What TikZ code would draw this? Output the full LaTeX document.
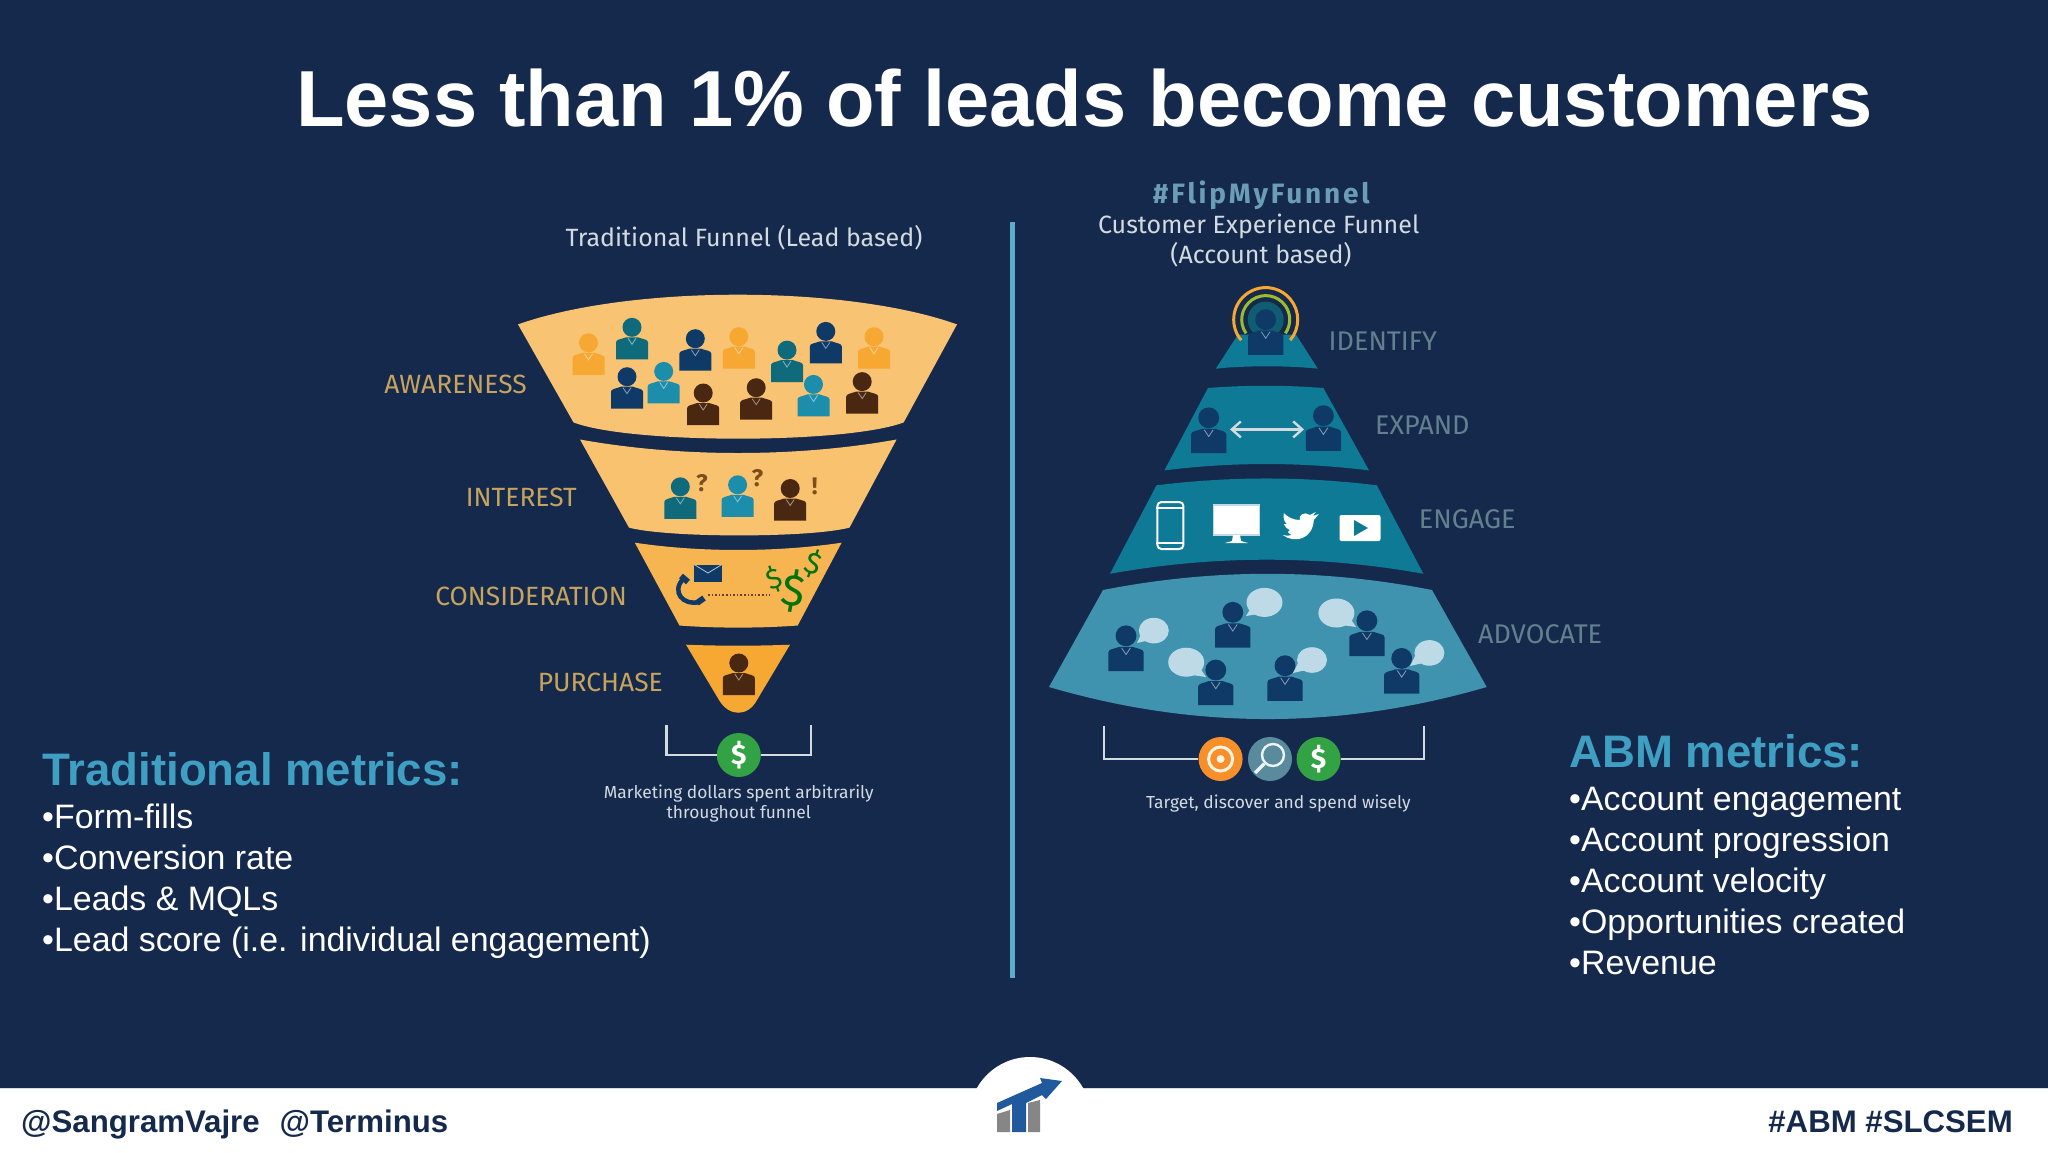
\documentclass[tikz,border=0pt]{standalone}
\usepackage{fontspec}
\setmainfont{Liberation Sans}
\newfontfamily\funnelfont{Fira Sans}
\usetikzlibrary{positioning}
\usetikzlibrary{arrows.meta}
\definecolor{slidebg}{HTML}{15294C}
\definecolor{metricblue}{HTML}{3F9FC3}
\definecolor{dimgold}{HTML}{C6A45E}
\definecolor{dimteal}{HTML}{64808F}
\definecolor{soft}{HTML}{D3DAE0}
\definecolor{pnavy}{HTML}{0F3A68}
\definecolor{pteal}{HTML}{0F6A7C}
\definecolor{pblue}{HTML}{1C8DAA}
\definecolor{pbrown}{HTML}{4A2710}
\definecolor{porange}{HTML}{F6A832}
\definecolor{tierdark}{HTML}{0E7A95}
\definecolor{tierlight}{HTML}{3F93AF}
\definecolor{cashgreen}{HTML}{33A245}
\definecolor{bubble}{HTML}{BEDAE6}
\definecolor{logoblue}{HTML}{215A9C}
\tikzset{
  pics/person/.style={code={
    \fill[#1] (0,0) circle (9.5pt);
    \fill[#1] (-16,32) -- (-16,15) .. controls (-16,12) and (-11,12) .. (-6,10) -- (6,10) .. controls (11,12) and (16,12) .. (16,15) -- (16,32) -- cycle;
    \draw[white, opacity=0.5, line width=0.8pt] (-4,11) -- (0,17) -- (4,11);
  }},
  headline/.style={text=white, font=\bfseries\fontsize{79.5}{90}\selectfont},
  metrichead/.style={text=metricblue, anchor=west, inner sep=0pt, font=\bfseries\fontsize{45.6}{50}\selectfont},
  metric/.style={text=white, anchor=west, inner sep=0pt, text height=26pt, text depth=8pt, font=\fontsize{33.9}{40}\selectfont},
  funneltext/.style={text=soft, font=\funnelfont\fontsize{25}{28}\selectfont},
  funnelnote/.style={text=soft, align=center, font=\funnelfont\fontsize{17.4}{20}\selectfont},
  stagegold/.style={text=dimgold, anchor=east, inner sep=0pt, font=\funnelfont\fontsize{26.4}{28}\selectfont},
  stageteal/.style={text=dimteal, anchor=west, inner sep=0pt, font=\funnelfont\fontsize{27}{28}\selectfont},
  footer/.style={text=slidebg, inner sep=0pt, font=\bfseries\fontsize{31.2}{36}\selectfont},
  bracket/.style={draw=soft, line width=2.2pt},
  coin/.style={circle, minimum size=44pt, inner sep=0pt},
  askmark/.style={text=pbrown!70!porange, font=\bfseries\funnelfont\fontsize{24}{28}\selectfont},
  cashmark/.style={text=green!45!black, font=\funnelfont\fontsize{#1}{#1}\selectfont}
}
\begin{document}
\begin{tikzpicture}[x=1pt, y=-1pt]
  \useasboundingbox (0,0) rectangle (2048,1152);
  \fill[slidebg] (0,0) rectangle (2048,1152);

  % footer
  \fill[white] (0,1089) rectangle (2048,1152);
  \draw[soft, line width=1pt] (0,1088.5) -- (2048,1088.5);
  \fill[white] (1030,1118) circle (61pt);
  \fill[gray!95] (997,1114) -- (1010,1110) -- (1010,1132) -- (997,1132) -- cycle;
  \fill[gray!95] (1028,1103) -- (1040,1100) -- (1040,1132) -- (1028,1132) -- cycle;
  \fill[logoblue] (997,1111) -- (1012,1104) -- (1012,1132) -- (1026,1132) -- (1026,1103) -- (1042,1095) -- (1046,1099) -- (1062,1081) -- (1040,1078) -- (1042,1083) -- (997,1103) -- cycle;
  \node[footer, anchor=base west] (handles) at (21,1132) {@SangramVajre\hspace{20pt}@Terminus};
  \node[footer, anchor=base east] (tags) at (2013,1132) {\#ABM \#SLCSEM};

  \node[headline] (title) at (1084.7,98) {Less than 1\% of leads become customers};
  \coordinate (rule_t) at (1012.5,222);
  \coordinate (rule_b) at (1012.5,978);
  \draw[metricblue!85!white, line width=5pt] (rule_t) -- (rule_b);

  % left funnel
  \node[funneltext] (trad) at (744,238) {Traditional Funnel (Lead based)};
  \fill[porange!65!white!95!orange] (518,324.4) .. controls (630,284.8) and (846,284.8) .. (957,324.4) -- (903.7,422.4) .. controls (846,444.1) and (630,444.1) .. (573.5,422.4) -- cycle;
  \fill[porange!70!white] (580,439.5) .. controls (680,457.5) and (796,457.5) .. (896.6,439.5) -- (849.5,527.6) .. controls (810,538) and (668,538) .. (629,527.6) -- cycle;
  \fill[porange!85!white] (634.8,542.7) .. controls (700,552.4) and (776,552.4) .. (841.6,542.7) -- (797.7,625.5) .. controls (760,628.3) and (716,628.3) .. (679.5,625.5) -- cycle;
  \fill[porange] (686,644.7) .. controls (720,646) and (756,646) .. (790,644.7) -- (757,700) .. controls (748,717) and (729,717) .. (719,700) -- cycle;

  \pic at (588.5,342.8) {person=porange};
  \pic at (632,327.3) {person=pteal};
  \pic at (695.3,338.7) {person=pnavy};
  \pic at (738.8,336.7) {person=porange};
  \pic at (787,350.1) {person=pteal};
  \pic at (825.8,331.4) {person=pnavy};
  \pic at (874,336.7) {person=porange};
  \pic at (627,376.7) {person=pnavy};
  \pic at (663.7,371.4) {person=pblue};
  \pic at (703.2,393) {person=pbrown};
  \pic at (756.2,387.7) {person=pbrown};
  \pic at (813.5,384.4) {person=pblue};
  \pic at (862.2,381.6) {person=pbrown};
  \pic at (680.3,486.8) {person=pteal};
  \pic at (737.6,484.8) {person=pblue};
  \pic at (790.2,488.5) {person=pbrown};
  \pic at (738.8,663) {person=pbrown};

  \node[askmark] (ask_1) at (702,483.6) {?};
  \node[askmark] (ask_2) at (757.4,478.3) {?};
  \node[askmark] (ask_3) at (814.7,486.8) {!};

  % phone, mail and money
  \draw[pnavy, line width=4.5pt] (684,578) .. controls (670,592) and (684,606) .. (699,602);
  \draw[pnavy, line width=6pt] (681,576) -- (688,582);
  \draw[pnavy, line width=6pt] (697,603) -- (704,598);
  \node[fill=pnavy, minimum width=28pt, minimum height=17pt, inner sep=0pt] (mail) at (708,573) {};
  \draw[white!70!pnavy, line width=0.8pt] (mail.north west) -- (mail.center) -- (mail.north east);
  \coordinate (call_l) at (708,595);
  \coordinate (call_r) at (770,595);
  \draw[pbrown!80!porange, line width=1.6pt, dotted] (call_l) -- (call_r);
  \node[cashmark=28, rotate=20] (cash_1) at (774,579.4) {\$};
  \node[cashmark=44, rotate=-10] (cash_2) at (794,591) {\$};
  \node[cashmark=30, rotate=-20] (cash_3) at (813,564) {\$};

  \node[stagegold] (awareness) at (527,384.4) {AWARENESS};
  \node[stagegold] (interest) at (577,497.8) {INTEREST};
  \node[stagegold] (consider) at (627,596.6) {CONSIDERATION};
  \node[stagegold] (purchase) at (663,682) {PURCHASE};

  \node[coin, fill=cashgreen, text=white, font=\bfseries\funnelfont\fontsize{28}{30}\selectfont] (spend_l) at (738.8,755) {\$};
  \coordinate (brace_a) at (666.4,725);
  \coordinate (brace_b) at (810.7,725);
  \draw[bracket] (brace_a) |- (spend_l);
  \draw[bracket] (brace_b) |- (spend_l);
  \node[funnelnote] (spend_note) at (738.8,804) {Marketing dollars spent arbitrarily\\throughout funnel};

  % right funnel
  \node[funneltext, text=metricblue!55!soft!80!slidebg, font=\bfseries\funnelfont\addfontfeatures{LetterSpace=10}\fontsize{28}{32}\selectfont] (flip) at (1261.3,195.6) {\#FlipMyFunnel};
  \node[funneltext] (cxf) at (1258.7,226.4) {Customer Experience Funnel};
  \node[funneltext] (abased) at (1261,254.6) {(Account based)};

  \fill[tierdark] (1238,334.5) -- (1296,334.5) -- (1317.8,368.7) .. controls (1290,365.5) and (1244,365.5) .. (1215.8,368.7) -- cycle;
  \fill[tierdark] (1208,388) .. controls (1245,385) and (1285,385) .. (1323.4,388) -- (1369,470.4) .. controls (1300,461.9) and (1232,461.9) .. (1164.4,470.4) -- cycle;
  \fill[tierdark] (1156.5,485.3) .. controls (1230,476.2) and (1303,476.2) .. (1376.8,485.3) -- (1423.4,573.8) .. controls (1320,555) and (1214,555) .. (1110,573.8) -- cycle;
  \fill[tierlight] (1103,590) .. controls (1213,568.4) and (1322,568.4) .. (1432,590) -- (1486.7,687) .. controls (1340,729.7) and (1195,729.7) .. (1049,687) -- cycle;

  % signal round the first contact
  \coordinate (ring_c) at (1265.7,319.6);
  \fill[pteal!80!slidebg] (ring_c) circle (18pt);
  \draw[porange, line width=3pt] ([shift={(220:32pt)}]ring_c) arc[start angle=220, end angle=-40, radius=32pt];
  \draw[green!35!porange!85!gray, line width=3pt] ([shift={(215:24pt)}]ring_c) arc[start angle=215, end angle=-35, radius=24pt];
  \pic[scale=1.1] at (1265.7,319.6) {person=pnavy};

  \pic[scale=1.1] at (1208.7,417.8) {person=pnavy};
  \pic[scale=1.1] at (1323.4,415.7) {person=pnavy};
  \coordinate (expand_l) at (1230,429.4);
  \coordinate (expand_r) at (1304,429.4);
  \draw[{Straight Barb[length=9pt,width=16pt]}-{Straight Barb[length=9pt,width=16pt]}, soft, line width=2.4pt] (expand_l) -- (expand_r);

  % channels
  \node[draw=white, fill=tierdark, line width=2pt, rounded corners=4pt, minimum width=26pt, minimum height=47pt, inner sep=0pt] (mobile) at (1170.4,525.5) {};
  \draw[white, line width=1.5pt] ([yshift=-7pt]mobile.north west) -- ([yshift=-7pt]mobile.north east);
  \draw[white, line width=1.5pt] ([yshift=7pt]mobile.south west) -- ([yshift=7pt]mobile.south east);
  \node[draw=bubble, fill=white, line width=1.5pt, minimum width=46pt, minimum height=30pt, inner sep=0pt] (screen) at (1236.4,520) {};
  \fill[white] (1233,535) -- (1240,535) -- (1241,541) -- (1248,543) -- (1225,543) -- (1232,541) -- cycle;
  \fill[white, shift={(1300.8,526)}] (-18,9) .. controls (-6,18) and (12,13) .. (13,-6) -- (18,-12) -- (12,-10) -- (15,-14) -- (9,-11) .. controls (4,-15) and (-3,-11) .. (-1,-6) .. controls (-8,-6) and (-13,-9) .. (-17,-13) .. controls (-18,-7) and (-16,-4) .. (-14,-2) -- (-17,-2) .. controls (-15,2) and (-13,3) .. (-11,4) -- (-13,6) .. controls (-12,8) and (-10,8) .. (-9,9) .. controls (-12,10) and (-15,10) .. (-18,9) -- cycle;
  \node[fill=white, rounded corners=2pt, minimum width=41pt, minimum height=26pt, inner sep=0pt] (video) at (1360,528) {};
  \fill[tierdark] (1354,520) -- (1368,528) -- (1354,536) -- cycle;

  % people talking
  \pic[scale=1.1] at (1126,635.8) {person=pnavy};
  \pic[scale=1.1] at (1232.8,612.3) {person=pnavy};
  \pic[scale=1.1] at (1366.9,620.8) {person=pnavy};
  \pic[scale=1.1] at (1401.7,658.4) {person=pnavy};
  \pic[scale=1.1] at (1215.8,670) {person=pnavy};
  \pic[scale=1.1] at (1285,665.7) {person=pnavy};
  \fill[bubble] (1153.8,630.6) ellipse [x radius=15pt, y radius=12.8pt];
  \fill[bubble] (1143,630) -- (1150,640) -- (1137,643) -- cycle;
  \fill[bubble] (1264.5,602.4) ellipse [x radius=18pt, y radius=14.5pt];
  \fill[bubble] (1252,606) -- (1258,614) -- (1246,616) -- cycle;
  \fill[bubble] (1336.4,613) ellipse [x radius=18pt, y radius=14.5pt];
  \fill[bubble] (1350,618) -- (1342,625) -- (1356,627) -- cycle;
  \fill[bubble] (1429.4,652.9) ellipse [x radius=15pt, y radius=12.8pt];
  \fill[bubble] (1417,652) -- (1423,663) -- (1410,666) -- cycle;
  \fill[bubble] (1186.2,662.2) ellipse [x radius=18pt, y radius=14.5pt];
  \fill[bubble] (1200,668) -- (1192,675) -- (1206,677) -- cycle;
  \fill[bubble] (1312,660) ellipse [x radius=15pt, y radius=12.8pt];
  \fill[bubble] (1300,659) -- (1306,670) -- (1293,673) -- cycle;

  \node[stageteal] (identify) at (1328.5,341) {IDENTIFY};
  \node[stageteal] (expand) at (1375,424.7) {EXPAND};
  \node[stageteal] (engage) at (1418.7,519) {ENGAGE};
  \node[stageteal] (advocate) at (1478,634) {ADVOCATE};

  \node[coin, fill=porange!85!red] (target) at (1220.6,759) {};
  \node[circle, draw=white!85!porange, line width=3pt, minimum size=24pt, inner sep=0pt] (target_in) at (1220.6,759) {};
  \node[circle, fill=white!85!porange, minimum size=8pt, inner sep=0pt] (target_dot) at (1220.6,759) {};
  \node[coin, fill=tierlight!60!gray] (lens) at (1270,759) {};
  \node[circle, draw=white!90!tierlight, line width=2.4pt, minimum size=22pt, inner sep=0pt] (lens_in) at (1273,755) {};
  \coordinate (lens_h) at (1255,773);
  \draw[white!90!tierlight, line width=3.4pt] (lens_in) -- (lens_h);
  \node[coin, fill=cashgreen, text=white, font=\bfseries\funnelfont\fontsize{28}{30}\selectfont] (spend_r) at (1318.6,759) {\$};
  \coordinate (brace_c) at (1104,725.5);
  \coordinate (brace_d) at (1424,725.5);
  \draw[bracket] (brace_c) |- (target);
  \draw[bracket] (brace_d) |- (spend_r);
  \node[funnelnote] (wise) at (1278.3,803.5) {Target, discover and spend wisely};

  % metric lists
  \node[metrichead] (tm_0) at (42,769) {Traditional metrics:};
  \node[metric] (tm_1) at (42,819) {•Form-fills};
  \node[metric] (tm_2) [below=41pt of tm_1.west, anchor=west] {•Conversion rate};
  \node[metric] (tm_3) [below=41pt of tm_2.west, anchor=west] {•Leads \& MQLs};
  \node[metric] (tm_4) [below=41pt of tm_3.west, anchor=west] {•Lead score (i.e. individual engagement)};

  \node[metrichead] (am_0) at (1569,751) {ABM metrics:};
  \node[metric] (am_1) at (1569,801) {•Account engagement};
  \node[metric] (am_2) [below=41pt of am_1.west, anchor=west] {•Account progression};
  \node[metric] (am_3) [below=41pt of am_2.west, anchor=west] {•Account velocity};
  \node[metric] (am_4) [below=41pt of am_3.west, anchor=west] {•Opportunities created};
  \node[metric] (am_5) [below=41pt of am_4.west, anchor=west] {•Revenue};
\end{tikzpicture}
\end{document}
